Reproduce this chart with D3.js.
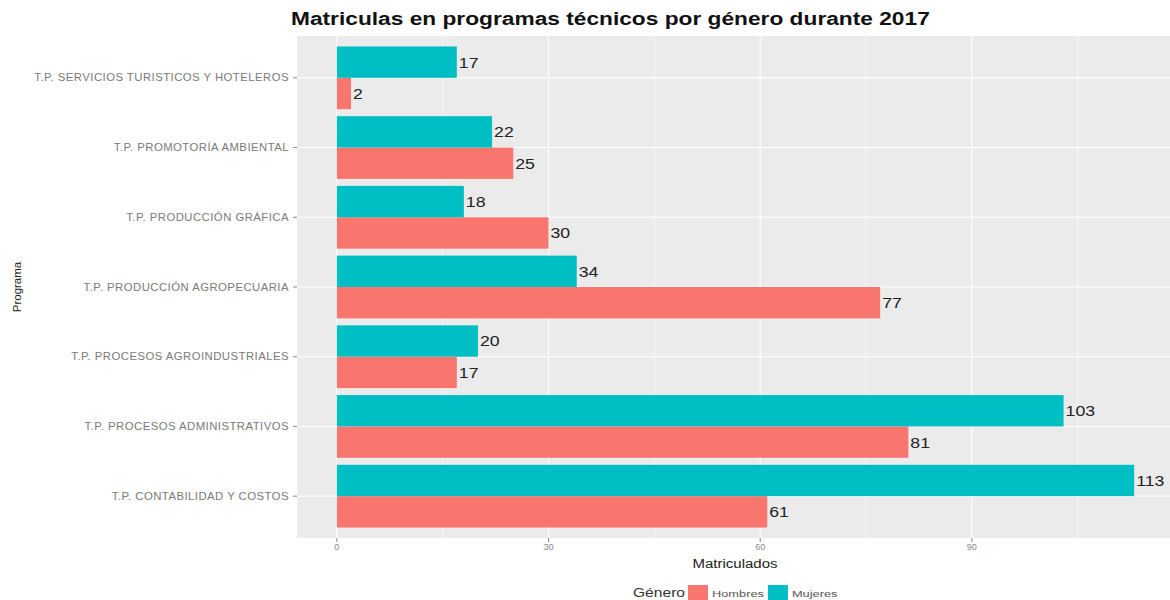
<!DOCTYPE html>
<html><head><meta charset="utf-8">
<script src="https://cdn.jsdelivr.net/npm/d3@7"></script>
<style>body{margin:0;background:#fff}svg{display:block}text{font-family:"Liberation Sans",Arial,sans-serif}</style>
</head><body><svg id="c" width="1170" height="600"></svg>
<script>
const categories = ["T.P. SERVICIOS TURISTICOS Y HOTELEROS","T.P. PROMOTORÍA AMBIENTAL","T.P. PRODUCCIÓN GRÁFICA","T.P. PRODUCCIÓN AGROPECUARIA","T.P. PROCESOS AGROINDUSTRIALES","T.P. PROCESOS ADMINISTRATIVOS","T.P. CONTABILIDAD Y COSTOS"];
const hombres = [2,25,30,77,17,81,61];
const mujeres = [17,22,18,34,20,103,113];
const genders = ["Mujeres","Hombres"];
const legendOrder = ["Hombres","Mujeres"];
const colors = {Hombres:"#F8766D", Mujeres:"#00BFC4"};
const xTicks = [0,30,60,90];
const xMinor = [15,45,75,105];
const title = "Matriculas en programas técnicos por género durante 2017";

const svg = d3.select("#c");
const L=297, R=1174, T=36, B=538;
const SX = 1.17; // horizontal stretch of text seen in reference
const maxV = d3.max(hombres.concat(mujeres));
const x = d3.scaleLinear().domain([-0.05*maxV, maxV*1.05]).range([L,R]);
const y = d3.scalePoint().domain(categories).range([T,B]).padding(0.6);
const step = y.step();
const yg = d3.scaleBand().domain(genders).range([-0.45*step, 0.45*step]);

function stext(parent, tx, ty, txt, size, opts={}) {
  const g = parent.append("g").attr("transform",`translate(${tx},${ty}) scale(${opts.sx||SX},1)`);
  const t = g.append("text").attr("font-size",size).attr("fill",opts.fill||"#222")
    .attr("text-anchor",opts.anchor||"start").attr("dy",opts.dy||null)
    .attr("font-weight",opts.weight||null).text(txt);
  return t;
}

svg.append("defs").append("clipPath").attr("id","pc").append("rect").attr("x",L).attr("y",T).attr("width",R-L).attr("height",B-T);
const panel = svg.append("g").attr("clip-path","url(#pc)");
panel.append("rect").attr("x",L).attr("y",T).attr("width",R-L).attr("height",B-T).attr("fill","#EBEBEB");
panel.selectAll(".mn").data(xMinor).join("line").attr("x1",d=>x(d)).attr("x2",d=>x(d)).attr("y1",T).attr("y2",B).attr("stroke","#fff").attr("stroke-width",0.6);
panel.selectAll(".mj").data(xTicks).join("line").attr("x1",d=>x(d)).attr("x2",d=>x(d)).attr("y1",T).attr("y2",B).attr("stroke","#fff").attr("stroke-width",1.1);
panel.selectAll(".hy").data(categories).join("line").attr("x1",L).attr("x2",R).attr("y1",d=>y(d)).attr("y2",d=>y(d)).attr("stroke","#fff").attr("stroke-width",1.1);

const rows = [];
categories.forEach((c,i)=>{rows.push({c,g:"Hombres",v:hombres[i]});rows.push({c,g:"Mujeres",v:mujeres[i]});});
panel.selectAll(".bar").data(rows).join("rect")
  .attr("x",x(0)).attr("y",d=>y(d.c)+yg(d.g)).attr("width",d=>x(d.v)-x(0)).attr("height",yg.bandwidth())
  .attr("fill",d=>colors[d.g]);
rows.forEach(d=>{
  stext(svg, x(d.v)+2, y(d.c)+yg(d.g)+yg.bandwidth()/2, d.v, 15, {dy:"0.36em", fill:"#222", sx:1.18});
});

// y axis
const ya = svg.append("g");
categories.forEach(c=>{
  ya.append("line").attr("x1",L-4).attr("x2",L).attr("y1",y(c)).attr("y2",y(c)).attr("stroke","#888").attr("stroke-width",1);
});
// measure reference label to match width 255px
const probe = svg.append("text").attr("font-size",10).attr("letter-spacing","0.4px").text(categories[0]);
const nat = probe.node().getComputedTextLength(); probe.remove();
const ysx = 255/nat;
categories.forEach(c=>{
  const g = ya.append("g").attr("transform",`translate(${L-8},${y(c)}) scale(${ysx},1)`);
  g.append("text").attr("text-anchor","end").attr("dy","0.35em").attr("font-size",10).attr("letter-spacing","0.4px").attr("fill","#7a7a7a").text(c);
});
// x axis
xTicks.forEach(t=>{
  svg.append("line").attr("x1",x(t)).attr("x2",x(t)).attr("y1",B).attr("y2",B+4).attr("stroke","#888");
  svg.append("text").attr("x",x(t)).attr("y",B+12).attr("text-anchor","middle").attr("font-size",9).attr("fill","#888").text(t);
});
stext(svg, 735, 568, "Matriculados", 12, {anchor:"middle", fill:"#222", sx:1.25});
svg.append("text").attr("transform",`translate(21,${(T+B)/2}) rotate(-90)`).attr("text-anchor","middle").attr("font-size",11.5).attr("fill","#222").text("Programa");
// title
const tp = svg.append("text").attr("font-size",19).attr("font-weight","bold").text(title);
const tl = tp.node().getComputedTextLength(); tp.remove();
stext(svg, 291, 25, title, 19, {weight:"bold", fill:"#111", sx:639/tl});

// legend
const lg = svg.append("g");
stext(lg, 633, 597, "Género", 12, {fill:"#333", sx:1.3});
let lx = 688;
legendOrder.forEach(g=>{
  lg.append("rect").attr("x",lx).attr("y",585).attr("width",20).attr("height",17).attr("fill",colors[g]);
  const t = stext(lg, lx+24, 597, g, 9.5, {fill:"#555", sx:1.35});
  lx += 24 + t.node().getComputedTextLength()*1.35 + 4;
});
</script></body></html>
